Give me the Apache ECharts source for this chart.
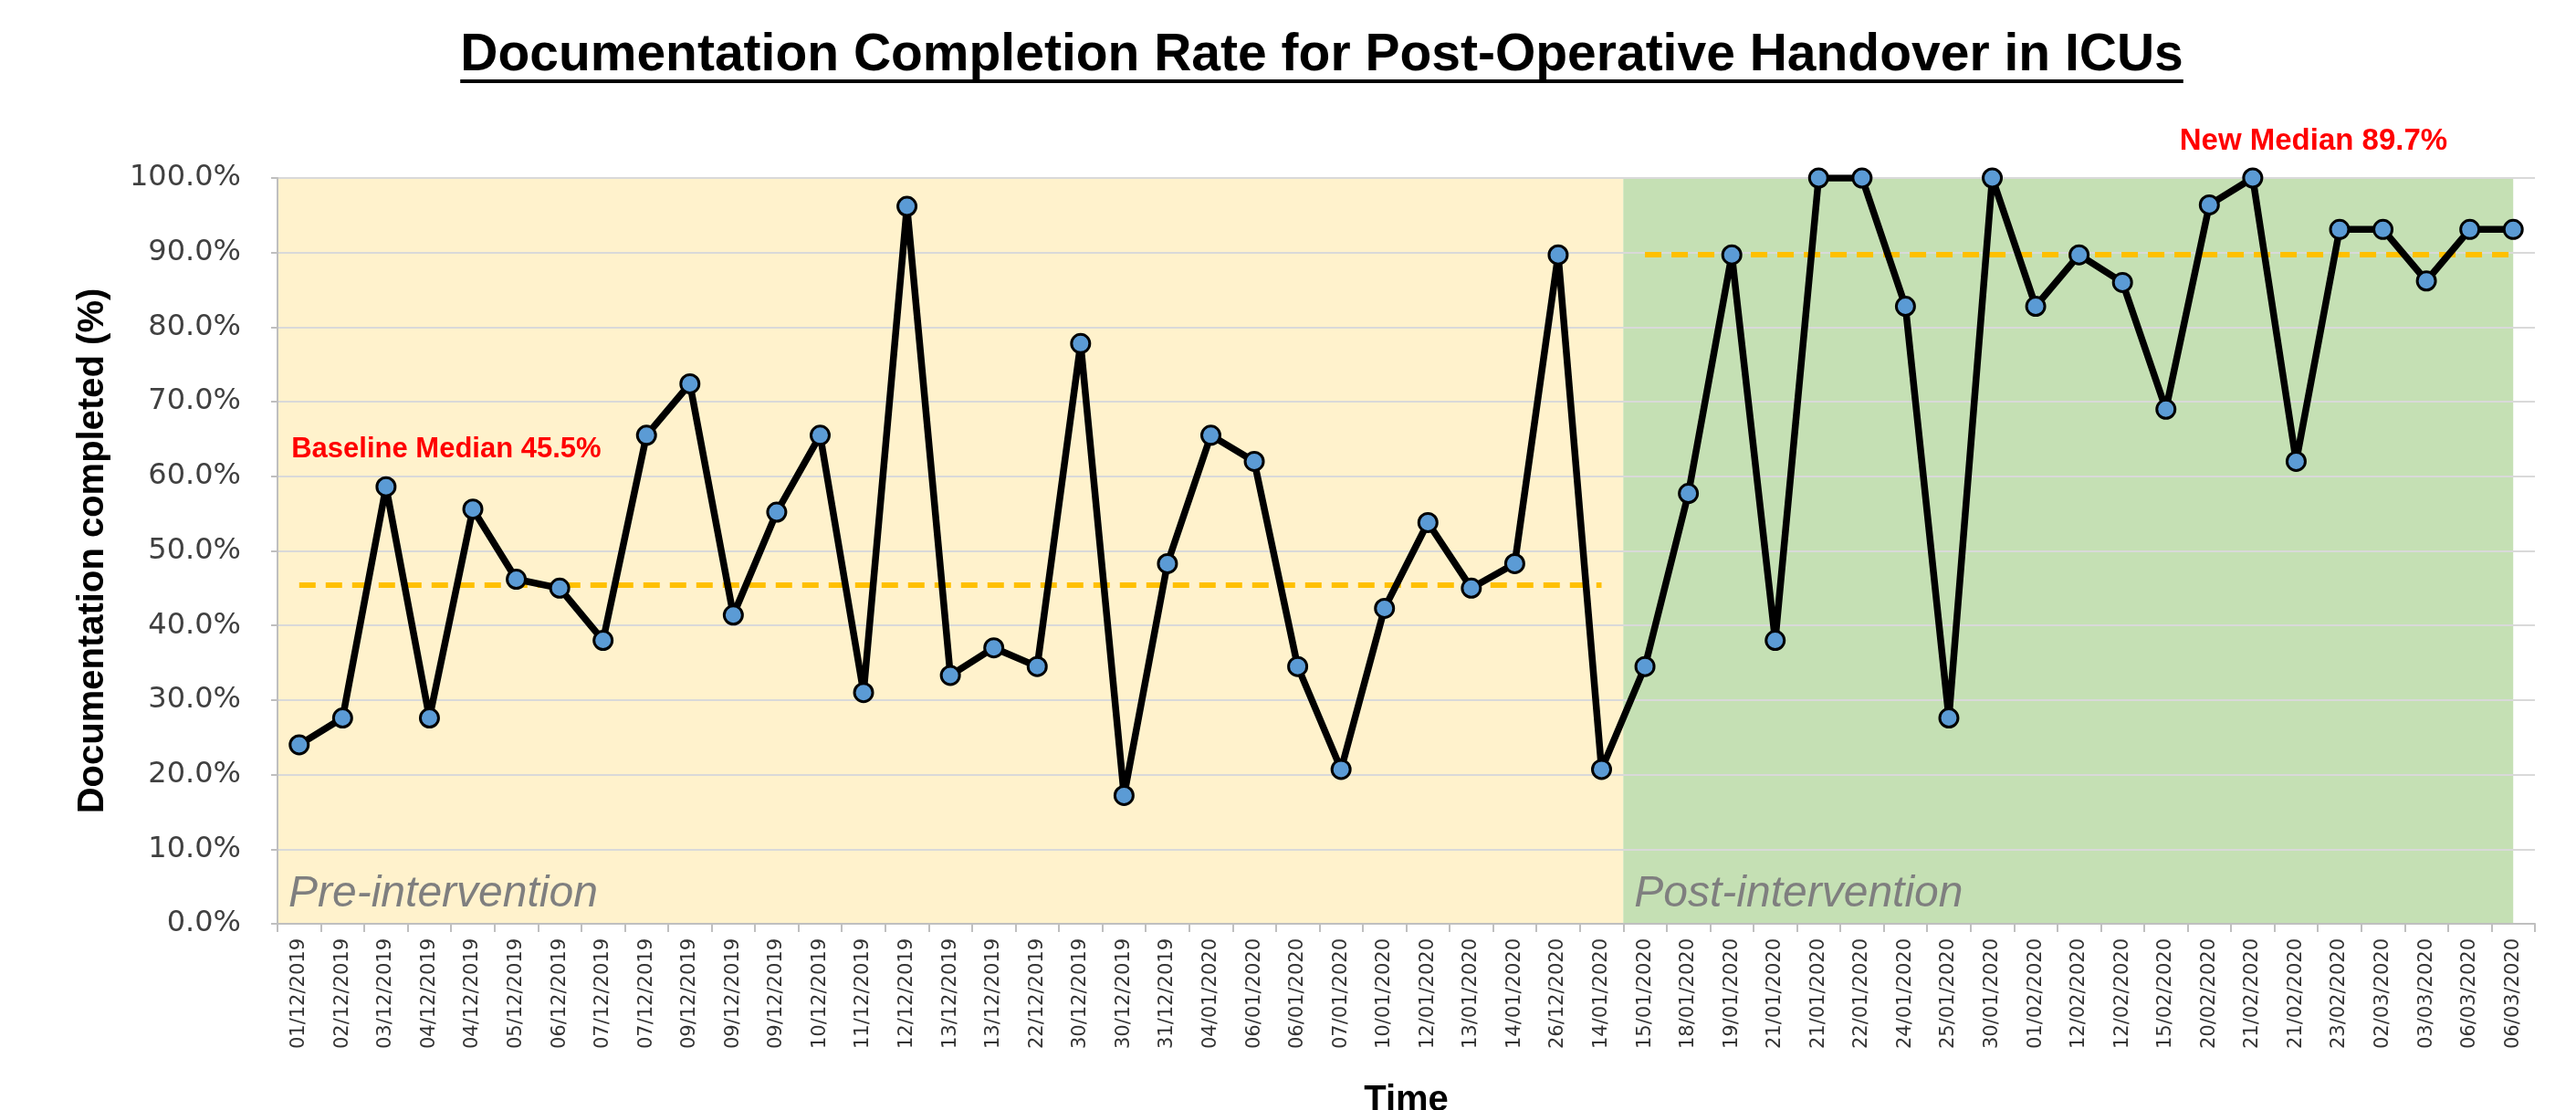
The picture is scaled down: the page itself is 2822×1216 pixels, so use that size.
<!DOCTYPE html>
<html>
<head>
<meta charset="utf-8">
<script src="https://cdn.jsdelivr.net/npm/echarts@6/dist/echarts.min.js"></script>
<style>
    body { margin: 0; background: #ffffff; }
    #main { width: 2822px; height: 1216px; }
</style>
</head>
<body>
<div id="main"></div>
<script>
// audit dates (as printed on the chart, duplicates included)
var categories = [
    "01/12/2019", "02/12/2019", "03/12/2019", "04/12/2019", "04/12/2019", "05/12/2019",
    "06/12/2019", "07/12/2019", "07/12/2019", "09/12/2019", "09/12/2019", "09/12/2019",
    "10/12/2019", "11/12/2019", "12/12/2019", "13/12/2019", "13/12/2019", "22/12/2019",
    "30/12/2019", "30/12/2019", "31/12/2019", "04/01/2020", "06/01/2020", "06/01/2020",
    "07/01/2020", "10/01/2020", "12/01/2020", "13/01/2020", "14/01/2020", "26/12/2020",
    "14/01/2020", "15/01/2020", "18/01/2020", "19/01/2020", "21/01/2020", "21/01/2020",
    "22/01/2020", "24/01/2020", "25/01/2020", "30/01/2020", "01/02/2020", "12/02/2020",
    "12/02/2020", "15/02/2020", "20/02/2020", "21/02/2020", "21/02/2020", "23/02/2020",
    "02/03/2020", "03/03/2020", "06/03/2020", "06/03/2020"
];

// documentation completed (%)
var completionRate = [
    24.0, 27.6, 58.6, 27.6, 55.6, 46.2, 45.0, 38.0, 65.5, 72.4, 41.4, 55.2,
    65.5, 31.0, 96.2, 33.3, 37.0, 34.5, 77.8, 17.2, 48.3, 65.5, 62.0, 34.5,
    20.7, 42.3, 53.8, 45.0, 48.3, 89.7, 20.7, 34.5, 57.7, 89.7, 38.0, 100.0,
    100.0, 82.8, 27.6, 100.0, 82.8, 89.7, 86.0, 69.0, 96.4, 100.0, 62.0, 93.1,
    93.1, 86.2, 93.1, 93.1
];

var phaseNames = ["Pre-intervention", "Post-intervention"];
var phaseStart = [-0.5, 30.5];
var phaseEnd = [30.5, 51];

var medianNames = ["Baseline Median", "New Median"];
var medianValues = [45.5, 89.7];
var medianFrom = [0, 31];
var medianTo = [30, 51];

var titleText = "Documentation Completion Rate for Post-Operative Handover in ICUs";
var titleFont = 'bold 57px "Liberation Sans"';

var dom = document.getElementById("main");
var myChart = echarts.init(dom);

// width of the title, for the underline
var ctx = document.createElement("canvas").getContext("2d");
ctx.font = titleFont;
var titleWidth = ctx.measureText(titleText).width;
var titleCenter = 1448;

var option = {
    animation: false,
    backgroundColor: "#ffffff",
    graphic: [
        {
            type: "text",
            x: titleCenter,
            y: 61,
            style: {
                text: titleText,
                font: titleFont,
                fill: "#000000",
                textAlign: "center",
                textVerticalAlign: "middle"
            }
        },
        {
            type: "rect",
            shape: { x: titleCenter - titleWidth / 2, y: 87, width: titleWidth, height: 4 },
            style: { fill: "#000000" }
        }
    ],
    grid: {
        left: 304,
        right: 45,
        top: 195,
        bottom: 204,
        outerBoundsMode: "none"
    },
    xAxis: [
        {
            type: "category",
            data: categories,
            boundaryGap: true,
            name: "Time",
            nameLocation: "middle",
            nameGap: 174,
            nameTextStyle: {
                fontFamily: "Liberation Sans",
                fontWeight: "bold",
                fontSize: 40,
                color: "#000000"
            },
            axisLine: { lineStyle: { color: "#BFBFBF", width: 2 } },
            axisTick: { show: true, length: 9, lineStyle: { color: "#BFBFBF", width: 2 } },
            axisLabel: {
                interval: 0,
                rotate: 90,
                margin: 16,
                fontFamily: "DejaVu Sans",
                fontSize: 21,
                color: "#333333"
            },
            splitLine: { show: false }
        },
        {
            type: "value",
            min: -0.5,
            max: categories.length - 0.5,
            show: false
        }
    ],
    yAxis: {
        type: "value",
        min: 0,
        max: 100,
        interval: 10,
        name: "Documentation completed (%)",
        nameLocation: "middle",
        nameRotate: 90,
        nameGap: 182,
        nameTextStyle: {
            fontFamily: "Liberation Sans",
            fontWeight: "bold",
            fontSize: 40,
            color: "#000000"
        },
        axisLine: { show: true, onZero: false, lineStyle: { color: "#BFBFBF", width: 2 } },
        axisTick: { show: true, length: 7, lineStyle: { color: "#BFBFBF", width: 2 } },
        axisLabel: {
            margin: 40,
            fontFamily: "DejaVu Sans",
            fontSize: 32,
            color: "#404040",
            formatter: function (v) { return v.toFixed(1) + "%"; }
        },
        splitLine: { lineStyle: { color: "#D9D9D9", width: 2 } }
    },
    series: [
        {
            // shaded phases
            type: "line",
            xAxisIndex: 1,
            data: [],
            silent: true,
            markArea: {
                silent: true,
                z: -1,
                data: [0, 1].map(function (i) {
                    return [
                        {
                            xAxis: phaseStart[i],
                            itemStyle: { color: i == 0 ? "#FFF2CC" : "#C5E0B4" },
                            label: {
                                show: true,
                                formatter: phaseNames[i],
                                position: "insideBottomLeft",
                                distance: 12,
                                offset: [0, 4],
                                fontFamily: "Liberation Sans",
                                fontStyle: "italic",
                                fontSize: 48,
                                color: "#7F7F7F"
                            }
                        },
                        { xAxis: phaseEnd[i] }
                    ];
                })
            }
        },
        {
            // medians and their notes
            type: "line",
            xAxisIndex: 1,
            data: [],
            silent: true,
            markLine: {
                silent: true,
                z: 1,
                symbol: "none",
                label: { show: false },
                lineStyle: { color: "#FFC000", width: 6, type: [18, 11] },
                data: [0, 1].map(function (i) {
                    return [
                        { coord: [medianFrom[i], medianValues[i]] },
                        { coord: [medianTo[i], medianValues[i]] }
                    ];
                })
            },
            markPoint: {
                silent: true,
                symbol: "circle",
                symbolSize: 0,
                label: {
                    show: true,
                    fontFamily: "Liberation Sans",
                    fontWeight: "bold",
                    color: "#FF0000"
                },
                data: [
                    {
                        name: medianNames[0] + " " + medianValues[0] + "%",
                        coord: [-0.18, 63.6],
                        label: { position: "right", distance: 0, fontSize: 31, formatter: "{b}" }
                    },
                    {
                        name: medianNames[1] + " " + medianValues[1] + "%",
                        coord: [46.4, 100],
                        label: { position: "inside", offset: [0, -40], fontSize: 33, formatter: "{b}" }
                    }
                ]
            }
        },
        {
            name: "Documentation completed",
            type: "line",
            data: completionRate,
            z: 3,
            symbol: "circle",
            symbolSize: 20,
            lineStyle: { color: "#000000", width: 7.5 },
            itemStyle: { color: "#5B9BD5", borderColor: "#000000", borderWidth: 3 }
        }
    ]
};

if (option && typeof option === "object") {
    myChart.setOption(option, true);
}
</script>
</body>
</html>
